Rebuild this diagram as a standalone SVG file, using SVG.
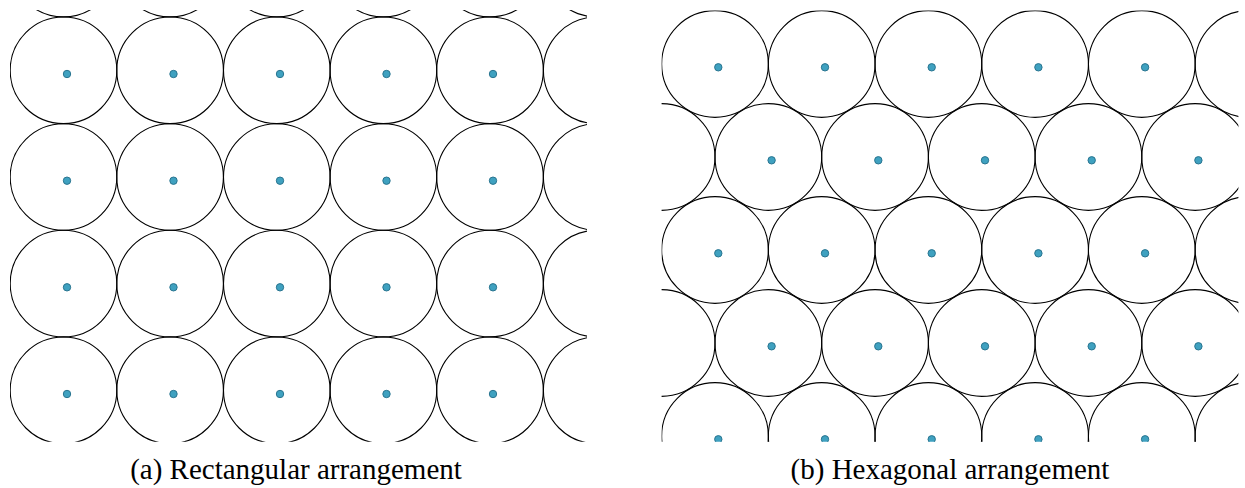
<svg xmlns="http://www.w3.org/2000/svg" xmlns:xlink="http://www.w3.org/1999/xlink" width="1245" height="488" viewBox="0 0 1245 488">
<style>
.c{fill:none;stroke:#000;stroke-width:1.1}
.d{fill:#3fa1c0;stroke:#2a7590;stroke-width:1}
.cap{font-family:"Liberation Serif","Times New Roman",serif;font-size:29px;fill:#000}
</style>
<defs>
<clipPath id="clipA"><rect x="10" y="10" width="577" height="431.7"/></clipPath>
<clipPath id="clipB"><rect x="661.6" y="10.5" width="576.8" height="431.2"/></clipPath>
<circle id="rc" r="53.3" class="c"/>
<circle id="hc" r="53.35" class="c"/>
<circle id="dt" r="3.7" class="d"/>
</defs>
<rect width="1245" height="488" fill="#fff"/>
<g id="panelA" clip-path="url(#clipA)">
<g id="rectCircles">
<use xlink:href="#rc" x="63.5" y="-36.4"/><use xlink:href="#rc" x="170.1" y="-36.4"/><use xlink:href="#rc" x="276.8" y="-36.4"/><use xlink:href="#rc" x="383.4" y="-36.4"/><use xlink:href="#rc" x="490" y="-36.4"/><use xlink:href="#rc" x="596.7" y="-36.4"/>
<use xlink:href="#rc" x="63.5" y="70.3"/><use xlink:href="#rc" x="170.1" y="70.3"/><use xlink:href="#rc" x="276.8" y="70.3"/><use xlink:href="#rc" x="383.4" y="70.3"/><use xlink:href="#rc" x="490" y="70.3"/><use xlink:href="#rc" x="596.7" y="70.3"/>
<use xlink:href="#rc" x="63.5" y="177"/><use xlink:href="#rc" x="170.1" y="177"/><use xlink:href="#rc" x="276.8" y="177"/><use xlink:href="#rc" x="383.4" y="177"/><use xlink:href="#rc" x="490" y="177"/><use xlink:href="#rc" x="596.7" y="177"/>
<use xlink:href="#rc" x="63.5" y="283.6"/><use xlink:href="#rc" x="170.1" y="283.6"/><use xlink:href="#rc" x="276.8" y="283.6"/><use xlink:href="#rc" x="383.4" y="283.6"/><use xlink:href="#rc" x="490" y="283.6"/><use xlink:href="#rc" x="596.7" y="283.6"/>
<use xlink:href="#rc" x="63.5" y="390.3"/><use xlink:href="#rc" x="170.1" y="390.3"/><use xlink:href="#rc" x="276.8" y="390.3"/><use xlink:href="#rc" x="383.4" y="390.3"/><use xlink:href="#rc" x="490" y="390.3"/><use xlink:href="#rc" x="596.7" y="390.3"/>
</g>
<g id="rectDots">
<use xlink:href="#dt" x="67" y="74"/><use xlink:href="#dt" x="173.5" y="74"/><use xlink:href="#dt" x="280" y="74"/><use xlink:href="#dt" x="386.5" y="74"/><use xlink:href="#dt" x="493" y="74"/>
<use xlink:href="#dt" x="67" y="180.7"/><use xlink:href="#dt" x="173.5" y="180.7"/><use xlink:href="#dt" x="280" y="180.7"/><use xlink:href="#dt" x="386.5" y="180.7"/><use xlink:href="#dt" x="493" y="180.7"/>
<use xlink:href="#dt" x="67" y="287.3"/><use xlink:href="#dt" x="173.5" y="287.3"/><use xlink:href="#dt" x="280" y="287.3"/><use xlink:href="#dt" x="386.5" y="287.3"/><use xlink:href="#dt" x="493" y="287.3"/>
<use xlink:href="#dt" x="67" y="394"/><use xlink:href="#dt" x="173.5" y="394"/><use xlink:href="#dt" x="280" y="394"/><use xlink:href="#dt" x="386.5" y="394"/><use xlink:href="#dt" x="493" y="394"/>
</g>
</g>
<g id="panelB" clip-path="url(#clipB)">
<g id="hexCircles">
<use xlink:href="#hc" x="715" y="64"/><use xlink:href="#hc" x="821.7" y="64"/><use xlink:href="#hc" x="928.4" y="64"/><use xlink:href="#hc" x="1035.1" y="64"/><use xlink:href="#hc" x="1141.8" y="64"/><use xlink:href="#hc" x="1248.5" y="64"/>
<use xlink:href="#hc" x="661.65" y="157"/><use xlink:href="#hc" x="768.35" y="157"/><use xlink:href="#hc" x="875.05" y="157"/><use xlink:href="#hc" x="981.75" y="157"/><use xlink:href="#hc" x="1088.45" y="157"/><use xlink:href="#hc" x="1195.15" y="157"/>
<use xlink:href="#hc" x="715" y="250"/><use xlink:href="#hc" x="821.7" y="250"/><use xlink:href="#hc" x="928.4" y="250"/><use xlink:href="#hc" x="1035.1" y="250"/><use xlink:href="#hc" x="1141.8" y="250"/><use xlink:href="#hc" x="1248.5" y="250"/>
<use xlink:href="#hc" x="661.65" y="343"/><use xlink:href="#hc" x="768.35" y="343"/><use xlink:href="#hc" x="875.05" y="343"/><use xlink:href="#hc" x="981.75" y="343"/><use xlink:href="#hc" x="1088.45" y="343"/><use xlink:href="#hc" x="1195.15" y="343"/>
<use xlink:href="#hc" x="715" y="436"/><use xlink:href="#hc" x="821.7" y="436"/><use xlink:href="#hc" x="928.4" y="436"/><use xlink:href="#hc" x="1035.1" y="436"/><use xlink:href="#hc" x="1141.8" y="436"/><use xlink:href="#hc" x="1248.5" y="436"/>
</g>
<g id="hexDots">
<use xlink:href="#dt" x="718.3" y="67.3"/><use xlink:href="#dt" x="825" y="67.3"/><use xlink:href="#dt" x="931.7" y="67.3"/><use xlink:href="#dt" x="1038.4" y="67.3"/><use xlink:href="#dt" x="1145.1" y="67.3"/>
<use xlink:href="#dt" x="771.6" y="160.3"/><use xlink:href="#dt" x="878.3" y="160.3"/><use xlink:href="#dt" x="985" y="160.3"/><use xlink:href="#dt" x="1091.7" y="160.3"/><use xlink:href="#dt" x="1198.4" y="160.3"/>
<use xlink:href="#dt" x="718.3" y="253.3"/><use xlink:href="#dt" x="825" y="253.3"/><use xlink:href="#dt" x="931.7" y="253.3"/><use xlink:href="#dt" x="1038.4" y="253.3"/><use xlink:href="#dt" x="1145.1" y="253.3"/>
<use xlink:href="#dt" x="771.6" y="346.3"/><use xlink:href="#dt" x="878.3" y="346.3"/><use xlink:href="#dt" x="985" y="346.3"/><use xlink:href="#dt" x="1091.7" y="346.3"/><use xlink:href="#dt" x="1198.4" y="346.3"/>
<use xlink:href="#dt" x="718.3" y="439.3"/><use xlink:href="#dt" x="825" y="439.3"/><use xlink:href="#dt" x="931.7" y="439.3"/><use xlink:href="#dt" x="1038.4" y="439.3"/><use xlink:href="#dt" x="1145.1" y="439.3"/>
</g>
</g>
<g id="captions">
<text class="cap" x="296" y="479" text-anchor="middle">(a) Rectangular arrangement</text>
<text class="cap" x="950" y="479" text-anchor="middle">(b) Hexagonal arrangement</text>
</g>
</svg>
